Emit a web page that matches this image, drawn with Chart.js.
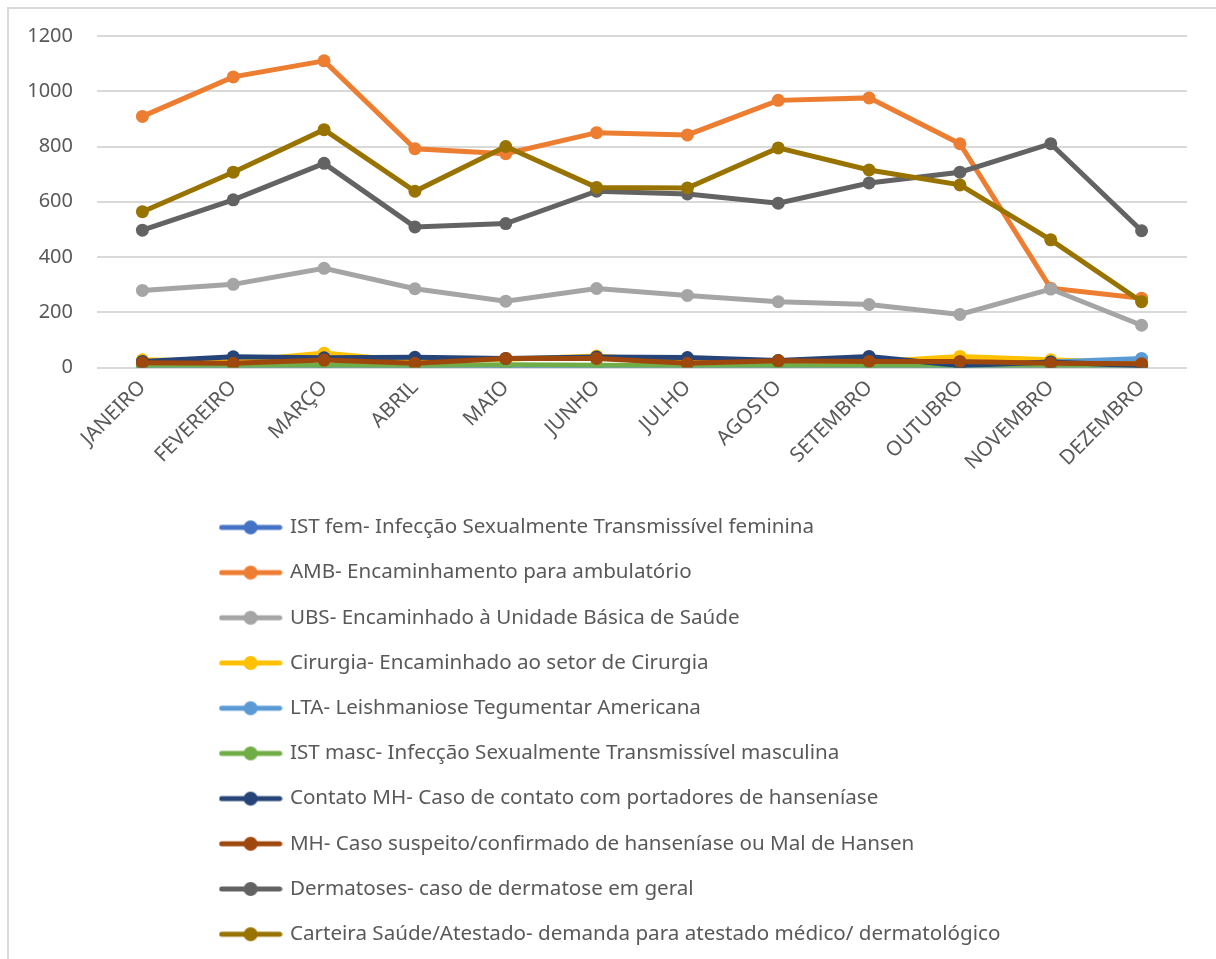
<!DOCTYPE html>
<html>
<head>
<meta charset="utf-8">
<script src="https://cdn.jsdelivr.net/npm/chart.js@4.4.0/dist/chart.umd.min.js"></script>
<style>
  html, body { margin: 0; padding: 0; background: #fff; overflow: hidden; }
  #frame { position: absolute; left: 7px; top: 7px; width: 1240px; height: 1000px;
           border-left: 2px solid #d9d9d9; border-top: 2px solid #d9d9d9; }
  #wrap { position: absolute; left: 0; top: 0; width: 1216px; height: 959px; }
</style>
</head>
<body>
<div id="frame"></div>
<div id="wrap"><canvas id="grafico"></canvas></div>
<script>
// meses do ano
const meses = ['JANEIRO', 'FEVEREIRO', 'MARÇO', 'ABRIL', 'MAIO', 'JUNHO',
               'JULHO', 'AGOSTO', 'SETEMBRO', 'OUTUBRO', 'NOVEMBRO', 'DEZEMBRO'];

// atendimentos por tipo de encaminhamento
const istFem     = [1, 2, 3, 2, 5, 2, 2, 3, 2, 1, 2, 3];
const amb        = [909, 1052, 1110, 792, 774, 850, 842, 967, 976, 810, 287, 251];
const ubs        = [279, 301, 359, 285, 240, 286, 261, 238, 228, 192, 284, 153];
const cirurgia   = [28, 22, 52, 22, 30, 42, 20, 25, 20, 40, 28, 15];
const lta        = [0, 1, 2, 1, 2, 1, 1, 2, 1, 0, 20, 33];
const istMasc    = [4, 6, 8, 6, 10, 8, 6, 7, 5, 4, 3, 2];
const contatoMh  = [22, 39, 35, 37, 33, 38, 36, 25, 40, 7, 20, 6];
const mh         = [17, 15, 27, 15, 33, 33, 15, 24, 22, 22, 15, 14];
const dermatoses = [497, 607, 739, 509, 521, 638, 628, 595, 668, 707, 810, 495];
const carteira   = [564, 707, 861, 638, 800, 652, 650, 795, 715, 661, 462, 238];

const yTicks = [0, 200, 400, 600, 800, 1000, 1200];

const series = [
    { label: 'IST fem- Infecção Sexualmente Transmissível feminina', data: istFem, cor: '#4472C4' },
    { label: 'AMB- Encaminhamento para ambulatório', data: amb, cor: '#ED7D31' },
    { label: 'UBS- Encaminhado à Unidade Básica de Saúde', data: ubs, cor: '#A5A5A5' },
    { label: 'Cirurgia- Encaminhado ao setor de Cirurgia', data: cirurgia, cor: '#FFC000' },
    { label: 'LTA- Leishmaniose Tegumentar Americana', data: lta, cor: '#5B9BD5' },
    { label: 'IST masc- Infecção Sexualmente Transmissível masculina', data: istMasc, cor: '#70AD47' },
    { label: 'Contato MH- Caso de contato com portadores de hanseníase', data: contatoMh, cor: '#264478' },
    { label: 'MH- Caso suspeito/confirmado de hanseníase ou Mal de Hansen', data: mh, cor: '#9E480E' },
    { label: 'Dermatoses- caso de dermatose em geral', data: dermatoses, cor: '#636363' },
    { label: 'Carteira Saúde/Atestado- demanda para atestado médico/ dermatológico', data: carteira, cor: '#997300' }
];

// símbolo da legenda: linha com marcador no meio
function simboloLegenda(cor) {
    const c = document.createElement('canvas');
    c.width = 64; c.height = 16;
    const ctx = c.getContext('2d');
    ctx.strokeStyle = cor;
    ctx.lineWidth = 5;
    ctx.lineCap = 'round';
    ctx.beginPath();
    ctx.moveTo(3, 8); ctx.lineTo(61, 8);
    ctx.stroke();
    ctx.fillStyle = cor;
    ctx.beginPath();
    ctx.arc(32, 8, 7, 0, Math.PI * 2);
    ctx.fill();
    return c;
}

// legenda em coluna: um item por linha, deslocada para a direita
const posicaoLegenda = {
    id: 'posicaoLegenda',
    beforeLayout(chart) {
        const lg = chart.legend;
        if (lg && !lg._umPorLinha) {
            const fitOriginal = lg.fit;
            lg.fit = function () {
                const w = this.maxWidth;
                this.maxWidth = 400;
                fitOriginal.call(this);
                this.maxWidth = w;
            };
            lg._umPorLinha = true;
        }
    },
    beforeDraw(chart) {
        if (chart.legend) {
            chart.legend.left = 197;
        }
    }
};

const fonte = "'Noto Sans', 'Open Sans', sans-serif";

new Chart(document.getElementById('grafico'), {
    type: 'line',
    data: {
        labels: meses,
        datasets: series.map((s, i) => ({
            label: s.label,
            data: s.data,
            borderColor: s.cor,
            backgroundColor: s.cor,
            borderWidth: 5,
            pointRadius: 6.5,
            pointBorderWidth: 0,
            pointBackgroundColor: s.cor,
            pointStyle: 'circle',
            tension: 0,
            order: series.length - i
        }))
    },
    options: {
        responsive: true,
        maintainAspectRatio: false,
        animation: false,
        layout: { padding: { top: 36, left: 0, right: 29, bottom: 10 } },
        scales: {
            x: {
                offset: true,
                grid: { display: false, drawTicks: false },
                border: { display: false },
                ticks: {
                    color: '#595959',
                    font: { family: fonte, size: 20.5 },
                    maxRotation: 45,
                    minRotation: 45,
                    padding: 8,
                    autoSkip: false
                },
                afterFit(scale) { scale.height = 125; }
            },
            y: {
                min: 0,
                max: 1200,
                afterBuildTicks(scale) { scale.ticks = yTicks.map(v => ({ value: v })); },
                grid: { color: '#d9d9d9', lineWidth: 2, drawTicks: false },
                border: { display: false },
                ticks: {
                    color: '#595959',
                    font: { family: fonte, size: 20 },
                    padding: 24,
                    callback: v => String(v)
                },
                afterFit(scale) { scale.width = 97; }
            }
        },
        plugins: {
            legend: {
                position: 'bottom',
                align: 'start',
                labels: {
                    color: '#595959',
                    font: { family: fonte, size: 20.6 },
                    usePointStyle: true,
                    pointStyleWidth: 58,
                    padding: 24.6,
                    generateLabels(chart) {
                        return chart.data.datasets.map((ds, i) => ({
                            text: ds.label,
                            fillStyle: ds.borderColor,
                            strokeStyle: ds.borderColor,
                            fontColor: '#595959',
                            lineWidth: 0,
                            pointStyle: simboloLegenda(ds.borderColor),
                            hidden: !chart.isDatasetVisible(i),
                            datasetIndex: i
                        }));
                    }
                }
            },
            tooltip: { enabled: false }
        }
    },
    plugins: [posicaoLegenda]
});
</script>
</body>
</html>
